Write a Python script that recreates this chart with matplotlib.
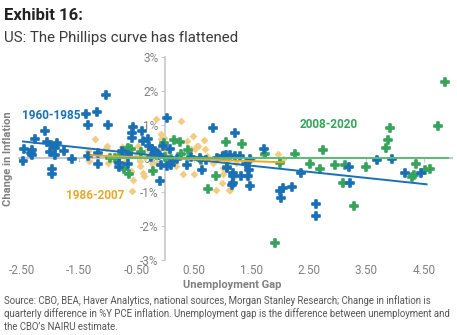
import numpy as np
import matplotlib
matplotlib.use("Agg")
import matplotlib.pyplot as plt

plt.rcParams['font.family'] = ['Roboto', 'DejaVu Sans']

# unemployment gap (x) vs change in inflation (y, %), by period
blue_x = [-2.47, -2.48, -2.27, -2.34, -2.33, -2.32, -2.10, -2.07, -2.00, -2.01,
          -1.92, -1.92, -1.88, -1.97, -1.97, -1.77, -1.63, -1.39, -1.34, -1.20,
          -1.04, -1.00, -1.34, -1.18, -1.18, -0.76, -0.80, -0.80, -0.65, -0.66,
          -0.58, -0.56, -0.58, -0.41, -0.39, -0.30, -0.29, -0.24, -0.18, -0.10,
          0.03, -0.04, -0.15, 0.08, -0.07, 0.02, 0.10, 0.14, 0.37, 0.63,
          0.83, 0.60, 1.00, 1.21, 1.12, 1.21, 1.30, 1.07, 1.18, 1.18,
          1.17, 1.16, 1.31, 1.41, 1.46, 1.44, 1.47, 1.47, 1.72, 1.99,
          2.04, 2.02, 2.21, 2.37, 2.62, 2.62, 3.20, 3.21, 3.69, 3.95,
          4.18, 4.46, -0.25, -0.12, 0.20, 0.45, 0.70, 0.90, 1.05]
blue_y = [0.27, -0.08, 0.58, 0.17, 0.09, 0.25, 0.81, 0.48, 0.41, 0.19,
          0.32, 0.09, 0.46, -0.30, -0.47, 0.22, -0.01, 1.30, 0.98, 1.38,
          1.87, 0.98, 0.07, 0.17, -0.16, 0.22, -0.13, -0.25, 0.09, -0.15,
          0.76, 0.94, 0.61, 0.81, 0.51, 0.58, 0.36, 0.27, 0.22, -0.67,
          1.20, 0.36, 0.17, 0.27, -0.18, -0.21, -0.18, -0.08, -0.18, -0.33,
          0.91, 0.02, 0.07, 0.74, 0.09, 0.07, 0.07, -0.28, -0.44, -0.52,
          -0.72, -0.77, -0.52, -0.15, -0.35, -0.52, -0.80, -0.03, 0.29, -0.97,
          -0.87, -1.16, -0.85, -0.44, -1.36, -1.69, -0.26, -0.72, -0.06, -0.03,
          -0.44, -0.42, 0.05, 0.10, -0.02, 0.05, -0.05, 0.02, 0.10]

gold_x = [-1.23, -1.34, -1.33, -1.02, -1.03, -1.00, -0.88, -0.83, -0.76, -0.68,
          -0.62, -0.68, -0.71, -0.60, -0.57, -0.59, -0.47, -0.50, -0.44, -0.44,
          -0.39, -0.37, -0.35, -0.30, -0.24, -0.17, -0.08, -0.07, -0.03, -0.10,
          -0.13, 0.05, 0.00, -0.15, 0.06, 0.19, 0.28, 0.28, 0.30, 0.37,
          0.48, 0.45, 0.51, 0.55, 0.57, 0.67, 0.50, 0.69, 0.72, 0.83,
          1.00, 0.98, 0.88, 1.11, 1.00, 1.00, 1.12, 1.18, 1.07, 1.23,
          1.47, 1.50, 1.44, 1.70, 1.97, 1.99, 2.04]
gold_y = [0.58, 0.22, -0.08, 0.36, 0.30, -0.13, -0.08, 0.02, 0.35, 0.35,
          0.22, -0.08, -0.23, -0.37, -0.64, -0.97, 0.36, 0.09, -0.08, -0.23,
          -0.42, -0.52, 0.05, 0.27, -0.13, 1.17, 0.71, 0.58, 0.61, 0.32,
          0.12, 0.22, 0.17, -0.13, -0.08, -0.23, 1.10, 0.07, -0.47, 0.51,
          0.66, 0.27, 0.27, 0.36, 0.38, 0.56, -0.47, 0.27, 0.07, -0.13,
          0.15, -0.72, -0.94, -0.92, -0.28, -0.47, -0.92, -0.57, -0.08, -0.13,
          0.02, -0.03, -0.57, 0.09, 0.12, -0.11, -0.03]

green_x = [-0.97, -0.88, -0.80, -0.65, -0.60, -0.72, -0.63, -0.43, -0.21, -0.03,
           0.00, 0.10, 0.15, 0.26, 0.27, 0.40, 0.62, 0.75, 0.88, 1.06,
           1.08, 1.33, 1.74, 1.99, 2.26, 2.52, 2.69, 2.74, 2.95, 3.13,
           3.09, 3.29, 3.49, 3.84, 3.88, 3.91, 4.30, 4.33, 4.36, 4.52,
           4.61, 4.74, 4.87, 1.91]
green_y = [0.02, 0.02, 0.05, 0.32, 0.29, -0.30, -0.45, 0.20, -0.36, 0.47,
           0.05, -0.03, 0.54, 0.50, 0.14, 0.24, -0.05, -0.89, -0.53, 0.48,
           -0.26, 0.42, 0.12, -0.13, 0.14, -0.16, -0.30, 0.24, -0.20, -0.18,
           -0.74, -1.41, -0.26, 0.32, 0.54, 0.89, -0.55, -0.50, -0.16, -0.33,
           -0.30, 0.96, 2.27, -2.51]

# fitted trend lines: slope, intercept, x range
blue_fit = [-0.18, 0.055, -2.48, 4.55]
gold_fit = [-0.061, 0.011, -1.30, 2.05]
green_fit = [0.0, 0.02, -1.00, 4.92]

x_ticks = [-2.5, -1.5, -0.5, 0.5, 1.5, 2.5, 3.5, 4.5]
y_ticks = [-3, -2, -1, 0, 1, 2, 3]

blue = '#1a70b5'
gold_pt = '#f1cc85'
gold = '#e9a92a'
green = '#36a35a'
green_line = '#5cbb78'
grey = '#808080'

fig = plt.figure(figsize=(4.57, 3.35), dpi=100)
ax = fig.add_axes([0.0416, 0.224, 0.9484, 0.606])

ax.scatter(gold_x, gold_y, marker='D', s=16, color=gold_pt, linewidths=0, zorder=3)
ax.scatter(green_x, green_y, marker='P', s=26, color=green, edgecolors=green,
           linewidths=1.2, zorder=3)
ax.scatter(blue_x, blue_y, marker='P', s=26, color=blue, edgecolors=blue,
           linewidths=1.2, zorder=3)

for fit, col in [(blue_fit, blue), (gold_fit, gold), (green_fit, green_line)]:
    xs = np.array(fit[2:])
    ax.plot(xs, fit[0] * xs + fit[1], color=col, lw=1.4, zorder=4)

ax.set_xlim(-2.55, 5.0)
ax.set_ylim(-3, 3)

for s in ['top', 'right']:
    ax.spines[s].set_visible(False)
ax.spines['left'].set_position(('data', 0))
ax.spines['bottom'].set_position(('data', 0))
ax.spines['left'].set_color('#c8c8c8')
ax.spines['bottom'].set_color('#c8c8c8')
ax.spines['left'].set_linewidth(1.2)
ax.spines['bottom'].set_linewidth(1.5)
ax.spines['bottom'].set_zorder(2)

ax.set_yticks(y_ticks)
ax.set_yticklabels([f'{v}%' for v in y_ticks])
ax.tick_params(axis='y', colors='#c8c8c8', labelcolor=grey, labelsize=8.5,
               length=3, pad=2)
ax.set_xticks(x_ticks)
ax.tick_params(axis='x', colors='#c8c8c8', labelbottom=False, length=3)

# x labels sit along the bottom of the plot, not on the zero line
sec = ax.secondary_xaxis(0.0)
sec.set_xticks(x_ticks)
sec.set_xticklabels([f'{v:.2f}' for v in x_ticks])
sec.tick_params(length=0, labelcolor=grey, labelsize=8.5, pad=3)
sec.spines['bottom'].set_visible(False)

ax.text(-1.98, 1.27, '1960-1985', color=blue, fontsize=8.5, fontweight='bold',
        ha='center', va='center')
ax.text(-1.23, -1.09, '1986-2007', color=gold, fontsize=8.5, fontweight='bold',
        ha='center', va='center')
ax.text(2.85, 1.0, '2008-2020', color=green, fontsize=8.5, fontweight='bold',
        ha='center', va='center')

fig.text(8 / 457, 1 - 159 / 335, 'Change in Inflation', rotation=90, color=grey,
         fontsize=8, fontweight='bold', ha='center', va='center')
fig.text(232 / 457, 1 - 284.5 / 335, 'Unemployment Gap', color=grey,
         fontsize=8, fontweight='bold', ha='center', va='center')

fig.text(4 / 457, 1 - 15 / 335, 'Exhibit 16:', fontsize=12, fontweight='bold',
         color='#222222', ha='left', va='center')
fig.text(4 / 457, 1 - 38 / 335, 'US: The Phillips curve has flattened', fontsize=10.8,
         color='#3a3a3a', ha='left', va='center')

notes = ["Source: CBO, BEA, Haver Analytics, national sources, Morgan Stanley Research; Change in inflation is",
         "quarterly difference in %Y PCE inflation. Unemployment gap is the difference between unemployment and",
         "the CBO\u2019s NAIRU estimate."]
for i, line in enumerate(notes):
    fig.text(4 / 457, 1 - (301 + 13 * i) / 335, line, fontsize=6.95, color='#555555',
             ha='left', va='center')

fig.savefig('out.png', dpi=100)
